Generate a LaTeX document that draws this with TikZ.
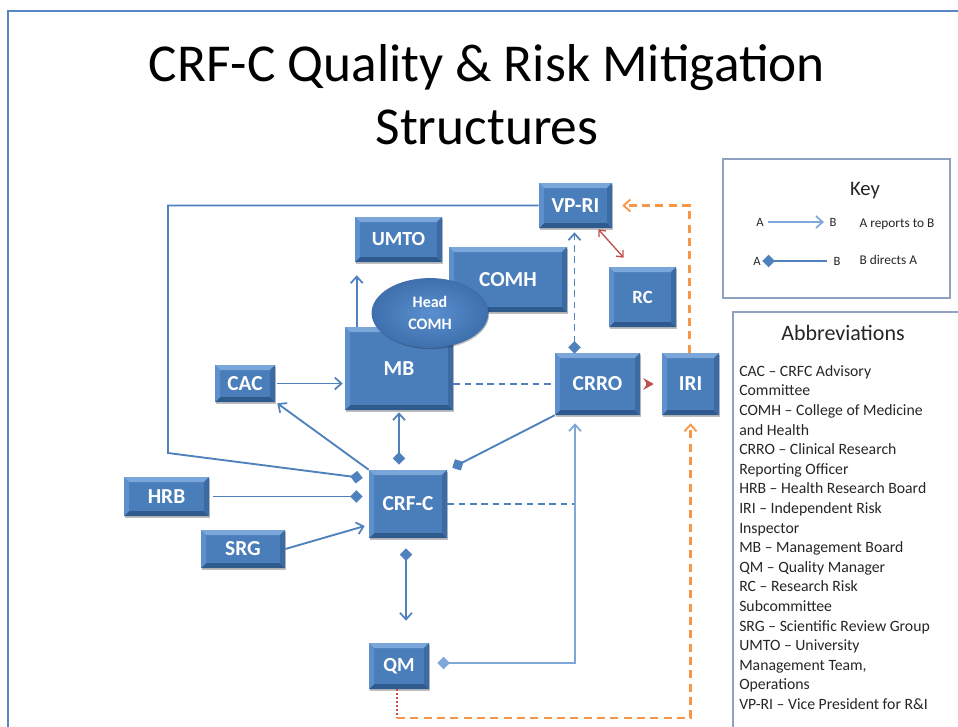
\documentclass[tikz,border=0pt]{standalone}
\usepackage{fontspec}
\setmainfont{Carlito}
\usetikzlibrary{arrows.meta,calc,shapes.geometric,shadows}

\definecolor{boxblue}{HTML}{4A7EBB}
\definecolor{bevtop}{HTML}{7AA6DA}
\definecolor{bevleft}{HTML}{5E90CE}
\definecolor{bevright}{HTML}{3C6AA3}
\definecolor{bevbot}{HTML}{2F5A8E}
\definecolor{lineblue}{HTML}{4F81BD}
\definecolor{lightblue}{HTML}{7FA7DA}
\definecolor{orangeln}{HTML}{F79646}
\definecolor{redln}{HTML}{C0504D}
\definecolor{framec}{HTML}{5B86C5}
\definecolor{keyframe}{HTML}{8DA2C0}
\definecolor{txtgray}{HTML}{262626}
\definecolor{elin}{HTML}{5A8FCF}
\definecolor{elout}{HTML}{3F70AD}

\def\bv{3.75pt}

\tikzset{
  mydia/.tip={Diamond[length=9.5pt,width=9.5pt]},
  mybarb/.tip={Straight Barb[length=5pt,width=9pt,line width=1.3pt]},
  sz/.style 2 args={minimum width=#1*0.75pt, minimum height=#2*0.75pt},
  bev/.style={path picture={
    \path (path picture bounding box.north west) coordinate (pp1)
          (path picture bounding box.south east) coordinate (pp2)
          (pp1 -| pp2) coordinate (pp3)
          (pp1 |- pp2) coordinate (pp4);
    \fill[bevtop] (pp1) -- (pp3) -- ($(pp3)+(-\bv,-\bv)$) -- ($(pp1)+(\bv,-\bv)$) -- cycle;
    \fill[bevbot] (pp4) -- (pp2) -- ($(pp2)+(-\bv,\bv)$) -- ($(pp4)+(\bv,\bv)$) -- cycle;
    \fill[bevleft] (pp1) -- (pp4) -- ($(pp4)+(\bv,\bv)$) -- ($(pp1)+(\bv,-\bv)$) -- cycle;
    \fill[bevright] (pp3) -- (pp2) -- ($(pp2)+(-\bv,\bv)$) -- ($(pp3)+(-\bv,-\bv)$) -- cycle;
  }},
  box/.style={rectangle, fill=boxblue, inner sep=0pt, text=white,
    font=\bfseries\fontsize{16}{19}\selectfont,
    drop shadow={shadow xshift=0.8pt,shadow yshift=-1.2pt,fill=black,opacity=0.25}, bev},
  ln/.style={draw=lineblue, line width=1.4pt},
  lnl/.style={draw=lightblue, line width=1.6pt},
  dsh/.style={ln, dash pattern=on 5pt off 3.5pt},
  orng/.style={draw=orangeln, line width=1.9pt, dash pattern=on 6pt off 4pt},
  keytxt/.style={font=\fontsize{9.5}{11}\selectfont, text=txtgray, inner sep=1pt},
}

\begin{document}
\begin{tikzpicture}[x=0.75pt,y=-0.75pt]
\useasboundingbox (0,0) rectangle (958,726);
\fill[white] (0,0) rectangle (958,726);

% outer frame
\draw[framec, line width=1.5pt] (8,740) -- (8,11) -- (970,11);

% title
\node[font=\fontsize{40}{48}\selectfont, anchor=base, inner sep=0pt] (t1) at (487,81) {CRF-C Quality \& Risk Mitigation};
\node[font=\fontsize{40}{48}\selectfont, anchor=base, inner sep=0pt] (t2) at (487,144) {Structures};

% boxes
\node[box, sz={87}{45}, font=\bfseries\fontsize{15}{18}\selectfont] (umto) at (398.5,239.5) {UMTO};
\node[box, sz={118}{65}] (comh) at (508,279.5) {COMH};
\node[box, sz={108}{83}] (mb) at (399,368.5) {MB};
\node[box, sz={60}{37}] (cac) at (245,383.5) {CAC};
\node[box, sz={73}{45}] (vpri) at (575.5,205.5) {VP-RI};
\node[box, sz={67}{60}, font=\bfseries\fontsize{14}{17}\selectfont] (rc) at (642.5,297) {RC};
\node[box, sz={85}{62}] (crro) at (597.5,384) {CRRO};
\node[box, sz={57}{62}] (iri) at (690.5,384) {IRI};
\node[box, sz={78}{68}] (crfc) at (408,504) {CRF-C};
\node[box, sz={85}{39}] (hrb) at (166.5,496.5) {HRB};
\node[box, sz={84}{38}] (srg) at (243,549) {SRG};
\node[box, sz={60}{46}, font=\bfseries\fontsize{15}{18}\selectfont] (qm) at (399,666) {QM};

\node[ellipse, sz={116}{69}, inner sep=0pt, inner color=elin, outer color=elout,
  draw=elout, line width=0.6pt, text=white, align=center,
  drop shadow={shadow xshift=0.8pt,shadow yshift=-1.2pt,fill=black,opacity=0.25},
  font=\bfseries\fontsize{12}{16.5}\selectfont] (head) at (430,313) {Head\\COMH};

% connectors
\coordinate (lp) at (168,453);
\draw[ln,-{mydia}] (vpri.west) -| (lp) -- ($(crfc.west)+(-6,-26)$);
\draw[ln,-{mydia}] ($(hrb.east)+(4,0)$) -- ($(crfc.west)+(-6,-7.5)$);
\draw[ln,-{mybarb}] (srg.east) -- ($(crfc.west)+(-4,22)$);
\draw[ln,-{mybarb}] (crfc.north west) -- ($(cac.south east)+(2,1)$);
\draw[ln,-{mybarb}] ($(cac.east)+(2,0)$) -- ($(cac.east -| mb.west)+(-2,0)$);
\draw[ln,-{mybarb}] ($(mb.north west)+(12,0)$) -- ($(umto.south west)+(2,13)$);
\draw[ln,{mydia}-{mybarb}] ($(mb.south |- crfc.north)+(0,-5)$) -- ($(mb.south)+(0,2)$);
\draw[ln,-{mydia}] (crro.south west) -- ($(crfc.north east)+(5,-2)$);
\draw[dsh] (crro.west -| mb.east) -- (crro.west);
\coordinate (vx) at (575,663);
\draw[dsh] (crfc.east) -- (crfc.east -| vx);
\draw[lnl,{mydia}-{mybarb}] ($(qm.east)+(8,-3)$) -| ($(vx |- crro.south)+(0,8)$);
\draw[ln,{mydia}-{mybarb}] ($(crfc.south)+(-2,10)$) -- ($(qm.north -| crfc.south)+(-2,-22)$);
\draw[dsh,{mydia}-{mybarb}] ($(vpri.south |- crro.north)+(-1,1)$) -- ($(vpri.south)+(-1,4)$);
\draw[draw=redln, line width=1pt, {Straight Barb[length=4pt,width=7pt]}-{Straight Barb[length=4pt,width=7pt]}] ($(vpri.south east)+(-14,1)$) -- ($(rc.north west)+(15,-9)$);
\draw[draw=redln, line width=1pt, -{Stealth[length=8pt,width=9pt,inset=3pt]}] ($(crro.east)+(6,0)$) -- ($(iri.west)+(-8,0)$);
\draw[orng,-{Straight Barb[length=5pt,width=9pt,line width=1.4pt]}] ($(iri.north)+(-1,0)$) |- ($(vpri.east)+(10,0)$);
\coordinate (qb) at (397,718);
\draw[draw=redln, line width=1pt, dotted] ($(qm.south)+(-2,0)$) -- (qb);
\draw[orng,-{Straight Barb[length=5pt,width=9pt,line width=1.4pt]}] (qb) -| ($(iri.south)+(0,8)$);

% key
\node[draw=keyframe, line width=1.5pt, sz={227}{139}] (keybox) at (836.5,228.5) {};
\node[font=\fontsize{15.5}{18}\selectfont, anchor=base, text=txtgray] (keyt) at (865,195) {Key};
\node[keytxt] (ka1) at (760,222) {A};
\node[keytxt] (kb1) at (833,222) {B};
\node[keytxt, anchor=west, font=\fontsize{10}{12}\selectfont] (kl1) at (858,224) {A reports to B};
\node[keytxt] (ka2) at (757,261) {A};
\node[keytxt] (kb2) at (837,261) {B};
\node[keytxt, anchor=west, font=\fontsize{10}{12}\selectfont] (kl2) at (858,260) {B directs A};
\draw[lnl,-{mybarb}, shorten <=2pt, shorten >=3pt] (ka1) -- (kb1);
\draw[ln,{mydia}-, shorten >=4pt] (ka2) -- (kb2);

% abbreviations
\node[draw=keyframe, line width=1.5pt, sz={242}{433}] (abbox) at (854,528.5) {};
\node[font=\fontsize{16.5}{20}\selectfont, anchor=base, text=txtgray] (abt) at (843,340) {Abbreviations};
\node[anchor=north west, inner sep=0pt, align=left, text=txtgray,
  font=\fontsize{11.8}{14.7}\selectfont] (abtxt) at (739,365) {%
CAC – CRFC Advisory\\
Committee\\
COMH – College of Medicine\\
and Health\\
CRRO – Clinical Research\\
Reporting Officer\\
HRB – Health Research Board\\
IRI – Independent Risk\\
Inspector\\
MB – Management Board\\
QM – Quality Manager\\
RC – Research Risk\\
Subcommittee\\
SRG – Scientific Review Group\\
UMTO – University\\
Management Team,\\
Operations\\
VP-RI – Vice President for R\&I};
\end{tikzpicture}
\end{document}
